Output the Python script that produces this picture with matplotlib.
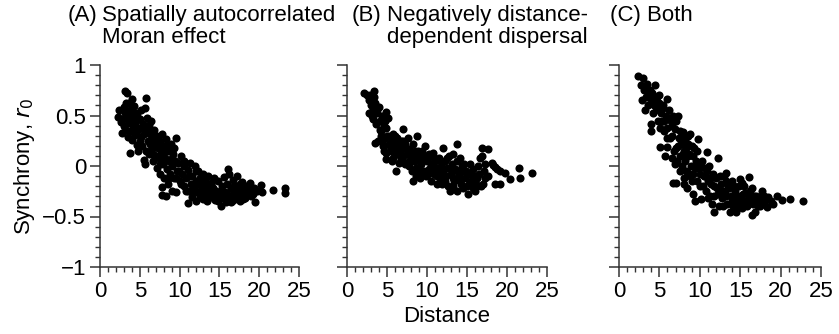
import matplotlib
matplotlib.use("Agg")
import matplotlib.pyplot as plt
from matplotlib.ticker import MultipleLocator

plt.rcParams["font.family"] = ["Liberation Sans", "DejaVu Sans"]

# (A) Spatially autocorrelated Moran effect
x_a = [2.2, 2.4, 2.6, 2.8, 2.9, 3.0, 3.1, 3.2, 3.3, 3.4, 3.5, 3.5, 3.6, 3.7, 3.75, 3.8, 3.9, 4.0, 4.0,
       4.1, 4.2, 4.3, 4.4, 4.5, 4.6, 4.7, 4.8, 4.9, 5.0, 5.1, 5.2, 5.3, 5.4, 5.5, 5.6, 5.7, 5.75, 5.8,
       5.9, 6.0, 6.1, 6.2, 6.3, 6.4, 6.5, 6.6, 6.7, 6.8, 6.9, 7.0, 7.1, 7.2, 7.3, 7.4, 7.5, 7.6, 7.7,
       7.75, 7.75, 7.8, 7.9, 8.0, 8.1, 8.2, 8.3, 8.3, 8.4, 8.5, 8.6, 8.7, 8.8, 8.9, 9.0, 9.0, 9.2, 9.3,
       9.4, 9.6, 9.6, 9.7, 9.8, 10.0, 10.2, 10.3, 10.5, 10.6, 10.8, 11.0, 11.0, 11.1, 11.3, 11.4, 11.5,
       11.6, 11.8, 11.9, 12.0, 12.0, 12.2, 12.3, 12.5, 12.6, 12.7, 12.9, 13.0, 13.1, 13.2, 13.4, 13.5,
       13.6, 13.8, 13.9, 14.0, 14.2, 14.3, 14.5, 14.6, 14.8, 15.0, 15.2, 15.3, 15.4, 15.6, 15.7, 15.8,
       16.0, 16.1, 16.2, 16.3, 16.4, 16.6, 16.7, 16.8, 17.0, 17.0, 17.2, 17.3, 17.5, 17.6, 17.8, 17.9,
       18.0, 18.2, 18.4, 18.6, 18.8, 19.0, 19.3, 19.5, 19.7, 20.2, 20.4, 21.7, 23.2, 23.2,
       3.0, 3.3, 3.6, 3.9, 4.2, 4.4, 4.6, 4.8, 5.0, 5.2, 5.5, 5.8, 6.0, 6.3, 6.6, 6.9, 7.2, 7.5, 7.8,
       8.1, 8.4, 8.7, 9.0, 9.3, 9.6, 9.9, 10.2, 10.5, 10.8, 11.2, 11.6, 12.0, 12.4, 12.8, 13.2, 13.6,
       14.0, 14.4, 14.8, 15.2, 15.6, 16.0, 16.4, 16.8, 17.2, 17.6, 18.0, 18.4, 18.9, 19.2]
y_a = [0.49, 0.55, 0.44, 0.33, 0.47, 0.40, 0.74, 0.52, 0.36, 0.72, 0.48, 0.29, 0.62, 0.43, 0.13, 0.55, 0.35, 0.66, 0.26,
       0.50, 0.40, 0.59, 0.31, 0.45, 0.21, 0.52, 0.15, 0.38, 0.47, 0.29, 0.55, 0.20, 0.42, 0.06, 0.57, 0.02, 0.67, 0.35,
       0.48, 0.25, 0.41, 0.12, 0.32, 0.45, 0.18, 0.28, 0.05, 0.36, 0.22, 0.10, 0.30, -0.02, 0.18, 0.08, 0.25, -0.08, 0.13,
       -0.21, -0.29, 0.32, 0.02, 0.20, -0.12, 0.08, -0.30, 0.27, -0.03, 0.15, -0.18, 0.05, -0.08, 0.22, -0.25, 0.00, 0.12, -0.12,
       0.05, 0.28, -0.26, -0.05, 0.03, -0.15, 0.10, -0.08, -0.20, 0.00, -0.12, -0.37, -0.04, -0.25, 0.03, -0.18, -0.31,
       -0.10, -0.22, 0.00, -0.35, -0.15, -0.26, -0.05, -0.30, -0.12, -0.20, -0.33, -0.08, -0.24, -0.15, -0.35, -0.20,
       -0.10, -0.28, -0.17, -0.31, -0.22, -0.12, -0.34, -0.25, -0.15, -0.28, -0.40, -0.20, -0.32, -0.11, -0.26, -0.36,
       -0.18, -0.03, -0.08, -0.30, -0.22, -0.35, -0.14, -0.27, -0.20, -0.33, -0.10, -0.28, -0.22, -0.35, -0.30, -0.16,
       -0.25, -0.32, -0.20, -0.27, -0.17, -0.30, -0.22, -0.36, -0.25, -0.19, -0.26, -0.24, -0.22, -0.27,
       0.58, 0.62, 0.50, 0.45, 0.52, 0.40, 0.35, 0.48, 0.25, 0.38, 0.32, 0.15, 0.38, 0.22, 0.12, 0.30, 0.22, 0.02, 0.08,
       0.15, 0.20, -0.12, 0.08, 0.18, -0.12, -0.05, -0.18, 0.05, -0.25, -0.10, -0.25, -0.05, -0.18, -0.25, -0.30, -0.25,
       -0.18, -0.28, -0.35, -0.25, -0.32, -0.28, -0.36, -0.20, -0.25, -0.18, -0.33, -0.28, -0.24, -0.28]

# (B) Negatively distance-dependent dispersal
x_b = [2.1, 2.5, 2.75, 2.8, 3.0, 3.2, 3.25, 3.35, 3.4, 3.5, 3.6, 3.7, 3.9, 4.0, 4.1, 4.2, 4.3, 4.4, 4.5,
       4.6, 4.7, 4.9, 4.9, 4.9, 4.9, 5.1, 5.2, 5.3, 5.5, 5.6, 5.8, 5.9, 6.0, 6.1, 6.2, 6.3, 6.4, 6.5,
       6.6, 6.8, 7.0, 7.0, 7.1, 7.2, 7.3, 7.5, 7.65, 7.7, 7.8, 8.0, 8.1, 8.2, 8.3, 8.4, 8.5, 8.6, 8.7,
       8.8, 9.0, 9.1, 9.2, 9.3, 9.5, 9.6, 9.75, 9.9, 10.0, 10.2, 10.4, 10.5, 10.6, 10.8, 10.9, 11.0,
       11.2, 11.3, 11.5, 11.6, 11.8, 12.0, 12.0, 12.2, 12.3, 12.5, 12.6, 12.7, 12.9, 13.0, 13.1, 13.3,
       13.4, 13.5, 13.7, 13.7, 13.8, 14.0, 14.1, 14.3, 14.5, 14.6, 14.8, 15.0, 15.1, 15.2, 15.4, 15.5,
       15.7, 16.0, 16.0, 16.2, 16.4, 16.6, 16.7, 16.85, 17.0, 17.1, 17.3, 17.6, 17.6, 18.1, 18.5, 18.5,
       19.1, 19.1, 19.8, 20.4, 21.5, 21.6, 23.1,
       2.9, 3.1, 3.5, 3.8, 4.1, 4.4, 4.7, 5.0, 5.4, 5.7, 6.0, 6.3, 6.7, 7.0, 7.4, 7.8, 8.1, 8.5, 8.9,
       9.3, 9.7, 10.1, 10.5, 10.9, 11.3, 11.7, 12.1, 12.5, 12.9, 13.3, 13.7, 14.1, 14.5, 14.9, 15.3,
       15.7, 16.1, 16.5, 16.9, 17.3, 18.3, 18.8,
       8.6, 9.4, 10.3, 11.1, 11.9, 12.4, 13.2, 13.9, 14.4, 15.8, 16.3, 6.9, 5.6, 4.6]
y_b = [0.72, 0.70, 0.65, 0.52, 0.60, 0.56, 0.47, 0.74, 0.68, 0.23, 0.42, 0.52, 0.25, 0.58, 0.45, 0.30, 0.35, 0.50, 0.20,
       0.40, 0.28, 0.38, 0.53, 0.13, 0.07, 0.48, 0.22, 0.30, 0.15, 0.25, 0.08, 0.18, 0.30, -0.05, 0.28, 0.12, 0.20, 0.03,
       0.15, 0.25, 0.37, 0.10, 0.18, 0.02, 0.22, 0.12, 0.28, 0.05, 0.17, 0.10, -0.05, 0.22, -0.15, 0.05, 0.15, -0.02, 0.30,
       0.08, -0.08, -0.12, 0.12, 0.02, 0.08, -0.05, 0.20, -0.10, 0.05, -0.03, 0.10, -0.15, 0.00, 0.13, -0.08, 0.05,
       -0.18, -0.02, 0.08, -0.12, 0.00, 0.18, -0.06, -0.15, 0.05, -0.02, -0.20, 0.10, -0.25, -0.08, 0.02, 0.12,
       -0.15, -0.03, 0.22, -0.25, 0.05, -0.10, 0.08, -0.18, -0.05, 0.02, -0.12, -0.20, -0.28, -0.08, 0.02, -0.15,
       -0.03, -0.25, -0.10, -0.12, 0.00, 0.08, -0.20, 0.18, -0.18, -0.05, 0.02, 0.17, -0.10, 0.03, -0.01, -0.18,
       -0.05, -0.18, -0.07, -0.13, -0.02, -0.12, -0.07,
       0.70, 0.50, 0.62, 0.55, 0.36, 0.25, 0.45, 0.30, 0.20, 0.32, 0.12, 0.22, 0.08, 0.25, 0.18, 0.00, 0.12, 0.05, 0.15,
       -0.05, 0.10, -0.08, 0.02, 0.08, -0.10, 0.05, -0.12, 0.08, -0.02, -0.12, -0.05, -0.15, -0.22, -0.05, -0.18,
       -0.10, -0.18, -0.08, 0.10, -0.12, 0.01, -0.03,
       -0.10, 0.15, 0.12, -0.05, -0.18, -0.10, -0.20, -0.12, 0.00, -0.22, -0.20, 0.05, 0.05, 0.15]

# (C) Both
x_c = [2.3, 2.9, 3.0, 3.1, 3.2, 3.4, 3.5, 3.6, 3.8, 3.9, 4.0, 4.0, 4.2, 4.4, 4.5, 4.6, 4.8, 5.0, 5.05,
       5.05, 5.2, 5.4, 5.5, 5.6, 5.7, 5.9, 5.9, 6.0, 6.1, 6.3, 6.5, 6.5, 6.7, 6.7, 6.9, 6.9, 7.1, 7.1,
       7.3, 7.4, 7.5, 7.7, 7.8, 7.95, 8.0, 8.1, 8.15, 8.2, 8.3, 8.4, 8.5, 8.6, 8.7, 8.8, 8.9, 9.0, 9.2,
       9.2, 9.4, 9.5, 9.6, 9.8, 9.9, 10.0, 10.2, 10.3, 10.5, 10.6, 10.8, 10.85, 11.0, 11.2, 11.3, 11.5,
       11.6, 11.8, 11.8, 12.0, 12.2, 12.3, 12.4, 12.6, 12.8, 13.0, 13.1, 13.3, 13.4, 13.5, 13.7, 13.8,
       14.0, 14.1, 14.3, 14.5, 14.6, 14.8, 15.0, 15.0, 15.2, 15.2, 15.4, 15.6, 15.8, 16.1, 16.1, 16.4,
       16.5, 16.6, 16.85, 17.0, 17.2, 17.5, 17.7, 17.9, 18.3, 18.5, 19.1, 19.5, 20.2, 21.2, 22.8,
       2.7, 3.3, 3.7, 4.1, 4.3, 4.7, 5.0, 5.3, 5.6, 6.0, 6.2, 6.6, 7.0, 7.3, 7.6, 7.9, 8.2, 8.5, 8.8,
       9.1, 9.4, 9.7, 10.0, 10.4, 10.7, 11.0, 11.4, 11.7, 12.1, 12.5, 12.9, 13.3, 13.6, 14.0, 14.4,
       14.8, 15.3, 15.7, 16.2, 16.7, 17.1, 17.5, 18.0, 18.8,
       7.2, 7.6, 8.0, 8.3, 8.6, 9.0, 9.3, 8.1, 7.7, 6.4, 5.8, 4.9, 6.8, 10.2, 10.9, 11.3, 12.7, 13.2,
       14.2, 15.5, 16.3]
y_c = [0.89, 0.65, 0.87, 0.75, 0.55, 0.68, 0.81, 0.60, 0.75, 0.42, 0.35, 0.66, 0.52, 0.80, 0.62, 0.58, 0.45, 0.70, 0.38,
       0.19, 0.52, 0.60, 0.57, 0.45, 0.10, 0.38, 0.19, 0.66, 0.48, 0.28, 0.08, 0.40, 0.50, -0.17, 0.37, 0.02, 0.18, -0.17,
       0.50, 0.28, 0.10, 0.22, 0.00, 0.34, -0.18, 0.15, 0.25, 0.05, -0.05, -0.22, 0.30, -0.07, 0.12, 0.32, 0.00, 0.20, -0.08,
       -0.28, -0.35, 0.05, -0.15, 0.27, -0.02, -0.20, -0.33, 0.05, -0.10, -0.02, -0.25, 0.14, -0.15, 0.00, -0.30, -0.38,
       -0.08, -0.46, -0.20, -0.12, 0.08, -0.28, -0.40, -0.18, -0.32, -0.10, -0.25, -0.07, -0.38, -0.20, -0.46, -0.30,
       -0.15, -0.40, -0.25, -0.46, -0.35, -0.20, -0.13, -0.30, -0.42, -0.17, -0.35, -0.27, -0.40, -0.11, -0.32, -0.49,
       -0.22, -0.38, -0.46, -0.30, -0.40, -0.31, -0.25, -0.36, -0.41, -0.31, -0.38, -0.30, -0.34, -0.33, -0.35,
       0.80, 0.78, 0.70, 0.72, 0.60, 0.68, 0.55, 0.45, 0.35, 0.28, 0.55, 0.30, 0.45, 0.20, 0.35, 0.12, 0.30, 0.10, -0.10,
       0.10, -0.02, 0.15, -0.08, -0.20, -0.10, -0.32, -0.18, -0.30, -0.22, -0.10, -0.40, -0.30, -0.22, -0.35, -0.30,
       -0.40, -0.28, -0.35, -0.25, -0.30, -0.35, -0.40, -0.30, -0.35,
       0.05, -0.05, 0.22, 0.18, 0.22, -0.15, 0.18, -0.12, 0.28, 0.45, 0.50, 0.62, 0.15, 0.00, -0.05, -0.12, -0.25, -0.15,
       -0.20, -0.20, -0.35]

panels = [(x_a, y_a), (x_b, y_b), (x_c, y_c)]
lefts = [100, 347, 619]
widths = [199, 200, 202]
fs = 16

fig = plt.figure(figsize=(8.39, 3.34), dpi=100)
axes = []
for i, (xs, ys) in enumerate(panels):
    ax = fig.add_axes([lefts[i] / 839, 1 - 267 / 334, widths[i] / 839, 202 / 334])
    ax.scatter(xs, ys, s=34, color="black", linewidths=0)
    ax.set_xlim(0, 25)
    ax.set_ylim(-1, 1)
    ax.xaxis.set_major_locator(MultipleLocator(5))
    ax.xaxis.set_minor_locator(MultipleLocator(1))
    ax.yaxis.set_major_locator(MultipleLocator(0.5))
    ax.yaxis.set_minor_locator(MultipleLocator(0.1))
    ax.spines["top"].set_visible(False)
    ax.spines["right"].set_visible(False)
    for s in ["left", "bottom"]:
        ax.spines[s].set_color("#333333")
        ax.spines[s].set_linewidth(1.1)
    ax.tick_params(which="major", length=7, width=1.1, color="#333333", labelsize=fs, pad=3)
    ax.tick_params(which="minor", length=3.5, width=1.0, color="#333333")
    ax.set_yticks([-1, -0.5, 0, 0.5, 1])
    ax.set_yticklabels(["\u22121", "\u22120.5", "0", "0.5", "1"])
    if i > 0:
        ax.set_yticklabels([])
    axes.append(ax)

axes[0].set_ylabel("Synchrony, $r_0$", fontsize=fs, labelpad=4)
axes[1].set_xlabel("Distance", fontsize=fs, labelpad=3)

top = 1 - 5 / 334
fig.text(68 / 839, top, "(A)", fontsize=fs, va="top")
fig.text(102 / 839, top, "Spatially autocorrelated\nMoran effect", fontsize=fs, va="top", linespacing=1.05)
fig.text(352 / 839, top, "(B)", fontsize=fs, va="top")
fig.text(387 / 839, top, "Negatively distance-\ndependent dispersal", fontsize=fs, va="top", linespacing=1.05)
fig.text(610 / 839, top, "(C) Both", fontsize=fs, va="top")

plt.savefig("out.png", dpi=100)
